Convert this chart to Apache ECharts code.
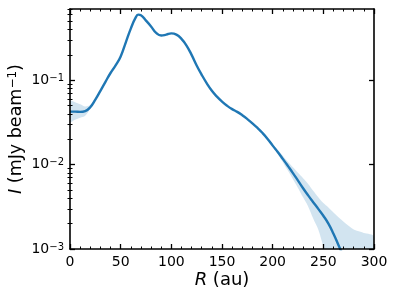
<!DOCTYPE html>
<html>
<head>
<meta charset="utf-8">
<script src="https://cdn.jsdelivr.net/npm/echarts@6/dist/echarts.min.js"></script>
<style>html,body{margin:0;padding:0;background:#fff;}#c{width:399px;height:299px;}</style>
</head>
<body>
<div id="c"></div>
<script>
// Profile
const radius = [0,5,10,15,20,25,30,35,40,45,50,55,60,65,67.5,70,75,80,85,90,95,100,105,110,115,120,125,130,135,140,145,150,155,160,165,170,175,180,185,190,195,200,205,210,215,220,225,230,235,240,245,250,255,260,265,270,275,280];
const intensity = [0.0425,0.0425,0.0422,0.0432,0.048,0.059,0.075,0.096,0.122,0.150,0.192,0.28,0.41,0.56,0.60,0.59,0.51,0.435,0.365,0.34,0.348,0.36,0.348,0.31,0.258,0.20,0.15,0.116,0.092,0.075,0.064,0.056,0.050,0.0455,0.0422,0.0385,0.0347,0.0309,0.0272,0.0237,0.0202,0.0168,0.0141,0.0117,0.00966,0.00794,0.00646,0.00525,0.00432,0.00359,0.00299,0.00248,0.0020,0.00152,0.00111,0.00081,0.00059,0.00042];
// Uncertainty band, inner segment
const bandInnerR = [0,5,10,15,20,25,28];
const bandInnerLo = [0.032,0.034,0.036,0.038,0.046,0.057,0.067];
const bandInnerHi = [0.057,0.055,0.052,0.049,0.051,0.061,0.069];
// Uncertainty band, outer segment
const bandOuterR = [185,195,205,215,220,225,230,235,240,245,250,255,260,270,280,290,300];
const bandOuterLo = [0.0268,0.0198,0.0134,0.0085,0.0067,0.0053,0.0041,0.0032,0.0023,0.0017,0.00107,0.0007,0.0005,0.0003,0.0002,0.0002,0.0002];
const bandOuterHi = [0.0276,0.0207,0.0150,0.0108,0.0093,0.0080,0.0069,0.0059,0.0049,0.0041,0.0035,0.0031,0.0027,0.0021,0.0017,0.00155,0.0014];
// Ticks
const yMajor = [0.001,0.01,0.1];
const yMinor = [0.002,0.003,0.004,0.005,0.006,0.007,0.008,0.009,0.02,0.03,0.04,0.05,0.06,0.07,0.08,0.09,0.2,0.3,0.4,0.5,0.6,0.7];
const yMin = 0.001, yMax = 0.7;
const xMin = 0, xMax = 300, xStep = 50;

const FONT = 'DejaVu Sans';
const BLUE = '#1f77b4';
const supExp = {'0.001':'−3','0.01':'−2','0.1':'−1'};

function bandSeries(R, lo, hi) {
  return {
    type: 'custom',
    xAxisIndex: 0, yAxisIndex: 0,
    clip: true, z: 1, silent: true,
    data: R.map((r, i) => [r, lo[i], hi[i]]),
    encode: {x: 0, y: [1, 2]},
    renderItem: function (params, api) {
      if (params.dataIndex !== 0) return null;
      const pts = [];
      for (let i = 0; i < R.length; i++) pts.push(api.coord([R[i], hi[i]]));
      for (let i = R.length - 1; i >= 0; i--) pts.push(api.coord([R[i], lo[i]]));
      return {type: 'polygon', shape: {points: pts, smooth: 0.3}, style: {fill: 'rgba(31,119,180,0.2)', stroke: null}};
    }
  };
}

const axisLineStyle = {show: true, onZero: false, lineStyle: {color: '#000', width: 1.6}};
function xAx(pos, labels) {
  return {
    type: 'value', position: pos, min: xMin, max: xMax, interval: xStep,
    axisLine: axisLineStyle,
    axisTick: {show: true, inside: true, length: 5, lineStyle: {color: '#000', width: 1.3}},
    minorTick: {show: true, splitNumber: 5, length: 2.5, lineStyle: {color: '#000', width: 1}},
    splitLine: {show: false}, minorSplitLine: {show: false},
    axisLabel: {show: labels, fontFamily: FONT, fontSize: 14, color: '#000', margin: 6},
    name: labels ? '{it|R} (au)' : '', nameLocation: 'middle', nameGap: 22, nameMoveOverlap: false,
    nameTextStyle: {fontFamily: FONT, fontSize: 18, color: '#000', rich: {it: {fontFamily: FONT, fontSize: 18, fontStyle: 'italic', color: '#000'}}},
    z: 5
  };
}
function yAx(pos, major, labels) {
  return {
    type: 'log', logBase: 10, position: pos, min: yMin, max: yMax,
    axisLine: major ? axisLineStyle : {show: false},
    axisTick: {show: true, inside: true, length: major ? 5 : 2.5, customValues: major ? yMajor : yMinor,
      lineStyle: {color: '#000', width: major ? 1.3 : 1}},
    splitLine: {show: false},
    axisLabel: labels ? {
      show: true, customValues: yMajor, fontFamily: FONT, fontSize: 14, color: '#000', margin: 6,
      formatter: v => '10{sup|' + supExp[String(+v.toPrecision(3))] + '}',
      rich: {sup: {fontFamily: FONT, fontSize: 10, verticalAlign: 'top', lineHeight: 10, color: '#000'}}
    } : {show: false},
    name: labels ? '{it|I} (mJy beam{sup|−1})' : '', nameLocation: 'middle', nameGap: 45, nameRotate: 90, nameMoveOverlap: false,
    nameTextStyle: {fontFamily: FONT, fontSize: 17.5, color: '#000',
      rich: {it: {fontFamily: FONT, fontSize: 17.5, fontStyle: 'italic', color: '#000'},
             sup: {fontFamily: FONT, fontSize: 12, verticalAlign: 'top', lineHeight: 12, color: '#000'}}},
    z: 5
  };
}

const chart = echarts.init(document.getElementById('c'), null, {renderer: 'canvas'});
chart.setOption({
  backgroundColor: '#fff',
  animation: false,
  grid: {left: 70, right: 25, top: 9, bottom: 50, containLabel: false, outerBoundsMode: 'none'},
  xAxis: [xAx('bottom', true), xAx('top', false)],
  yAxis: [yAx('left', true, true), yAx('left', false, false), yAx('right', true, false), yAx('right', false, false)],
  series: [
    bandSeries(bandInnerR, bandInnerLo, bandInnerHi),
    bandSeries(bandOuterR, bandOuterLo, bandOuterHi),
    {
      type: 'line', xAxisIndex: 0, yAxisIndex: 0, z: 3,
      data: radius.map((r, i) => [r, intensity[i]]),
      smooth: 0.5, showSymbol: false, clip: true,
      lineStyle: {color: BLUE, width: 2.4}
    }
  ]
});
</script>
</body>
</html>
